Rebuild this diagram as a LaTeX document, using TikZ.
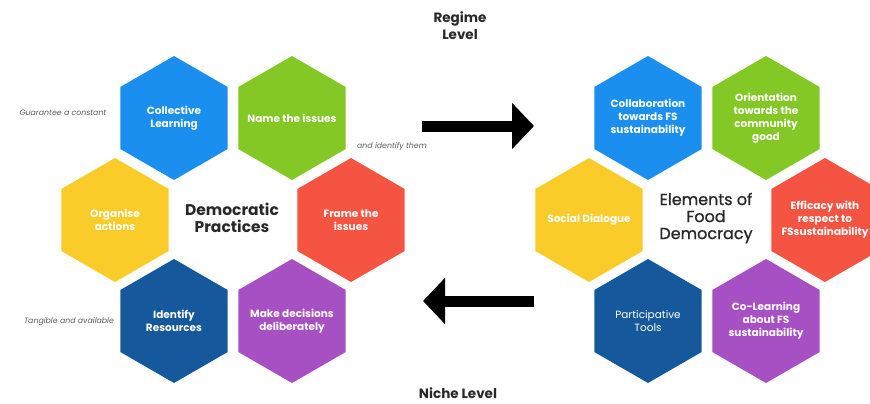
\documentclass[tikz,border=0pt]{standalone}
\usepackage{fontspec}
\setmainfont{Poppins}
\newfontfamily\hubfont{Poppins}[FakeBold=1]
\usetikzlibrary{shapes.geometric,arrows.meta}

\definecolor{hexblue}{RGB}{27,143,240}
\definecolor{hexgreen}{RGB}{132,200,38}
\definecolor{hexyellow}{RGB}{249,204,42}
\definecolor{hexred}{RGB}{246,84,66}
\definecolor{hexnavy}{RGB}{21,89,156}
\definecolor{hexpurple}{RGB}{166,80,196}
\definecolor{darktext}{RGB}{40,40,40}

\tikzset{
	hexcell/.style={regular polygon, regular polygon sides=6, shape border rotate=30,
		minimum size=124pt, inner sep=-25pt, outer sep=0pt, fill=#1, text=white,
		align=center, font=\bfseries\fontsize{10.5}{13}\selectfont},
	hubtext/.style={align=center, text=darktext, font=\hubfont\fontsize{16}{17}\selectfont},
	leveltext/.style={align=center, text=darktext, font=\bfseries\fontsize{13.5}{17}\selectfont},
	note/.style={text=black!65, font=\itshape\fontsize{7.8}{9}\selectfont},
	bigarrow/.style={line width=11pt, -{Triangle[length=22pt,width=45pt]}}
}

\begin{document}
\begin{tikzpicture}[x=1pt, y=-1pt]
	\useasboundingbox (0,0) rectangle (870,404);
	% democratic practices
	\node (DP) [hubtext, font=\bfseries\fontsize{15.5}{17}\selectfont] at (232,218) {Democratic\\Practices};
	\node (CL) [hexcell=hexblue] at (174,118) {Collective\\Learning};
	\node (NI) [hexcell=hexgreen] at (292,118) {Name the issues};
	\node (OA) [hexcell=hexyellow] at (115,220) {Organise\\actions};
	\node (FI) [hexcell=hexred] at (351,220) {Frame the\\issues};
	\node (IR) [hexcell=hexnavy] at (174,321) {Identify\\Resources};
	\node (MD) [hexcell=hexpurple] at (292,321) {Make decisions\\deliberately};
	\node (gc) [note] at (63,113) {Guarantee a constant};
	\node (it) [note] at (392,147) {and identify them};
	\node (ta) [note] at (69,322) {Tangible and available};
	% elements of food democracy
	\node (EF) [hubtext] at (706,218) {Elements of\\Food\\Democracy};
	\node (CF) [hexcell=hexblue] at (648,118) {Collaboration\\towards FS\\sustainability};
	\node (OC) [hexcell=hexgreen] at (766,118) {Orientation\\towards the\\community\\good};
	\node (SD) [hexcell=hexyellow] at (589,220) {Social Dialogue};
	\node (ER) [hexcell=hexred] at (825,220) {Efficacy with\\respect to\\FSsustainability};
	\node (PT) [hexcell=hexnavy, font=\fontsize{10.5}{13}\selectfont] at (648,321) {Participative\\Tools};
	\node (CO) [hexcell=hexpurple] at (766,321) {Co-Learning\\about FS\\sustainability};
	% levels
	\node (RL) [leveltext] at (460,26) {Regime\\Level};
	\node (NL) [leveltext] at (458,393) {Niche Level};
	\coordinate (up1) at (422,126);
	\coordinate (up2) at (534,126);
	\coordinate (dn1) at (534,301);
	\coordinate (dn2) at (423,301);
	\draw[bigarrow] (up1) -- (up2);
	\draw[bigarrow] (dn1) -- (dn2);
\end{tikzpicture}
\end{document}
